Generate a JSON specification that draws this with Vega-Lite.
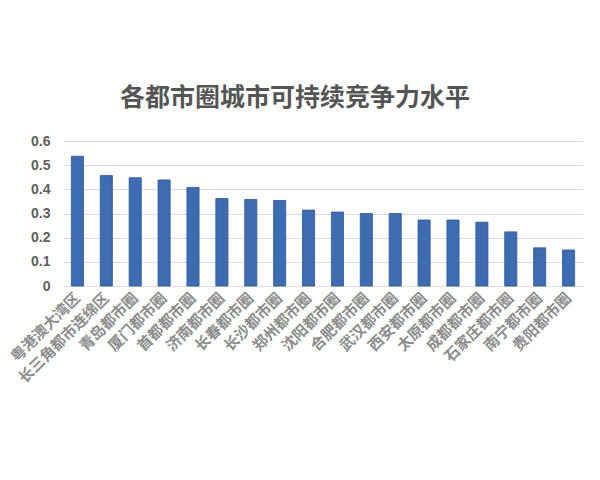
{
  "$schema": "https://vega.github.io/schema/vega-lite/v6.json",
  "autosize": {"type": "none"},
  "padding": {"left": 63, "top": 141, "right": 17, "bottom": 194},
  "width": 520,
  "height": 145,
  "background": "white",
  "title": {
    "text": "各都市圈城市可持续竞争力水平",
    "font": "Noto Sans CJK SC",
    "fontSize": 25,
    "fontWeight": "bold",
    "color": "#555555",
    "anchor": "middle",
    "dx": -28,
    "offset": 23
  },
  "data": {
    "values": [
      {"region": "粤港澳大湾区", "value": 0.537},
      {"region": "长三角都市连绵区", "value": 0.457},
      {"region": "青岛都市圈", "value": 0.448},
      {"region": "厦门都市圈", "value": 0.439},
      {"region": "首都都市圈", "value": 0.408},
      {"region": "济南都市圈", "value": 0.362},
      {"region": "长春都市圈", "value": 0.358},
      {"region": "长沙都市圈", "value": 0.354},
      {"region": "郑州都市圈", "value": 0.314},
      {"region": "沈阳都市圈", "value": 0.306},
      {"region": "合肥都市圈", "value": 0.300},
      {"region": "武汉都市圈", "value": 0.300},
      {"region": "西安都市圈", "value": 0.273},
      {"region": "太原都市圈", "value": 0.273},
      {"region": "成都都市圈", "value": 0.264},
      {"region": "石家庄都市圈", "value": 0.224},
      {"region": "南宁都市圈", "value": 0.158},
      {"region": "贵阳都市圈", "value": 0.149}
    ]
  },
  "mark": {"type": "bar", "color": "#3d6cb3", "stroke": "#2f5793", "strokeWidth": 0.8},
  "encoding": {
    "x": {
      "field": "region",
      "type": "nominal",
      "sort": null,
      "scale": {"paddingInner": 0.58, "paddingOuter": 0.29},
      "axis": {
        "title": null,
        "labelAngle": -45,
        "labelAlign": "right",
        "labelBaseline": "middle",
        "labelFont": "Noto Sans CJK SC",
        "labelFontSize": 15,
        "labelFontWeight": "bold",
        "labelColor": "#8c8c8c",
        "labelPadding": 9,
        "ticks": false,
        "domain": false,
        "labelOverlap": false
      }
    },
    "y": {
      "field": "value",
      "type": "quantitative",
      "scale": {"domain": [0, 0.6], "nice": false},
      "axis": {
        "title": null,
        "values": [0, 0.1, 0.2, 0.3, 0.4, 0.5, 0.6],
        "labelExpr": "datum.value == 0 ? '0' : format(datum.value, '.1f')",
        "labelFont": "Liberation Sans",
        "labelFontSize": 14,
        "labelFontWeight": "bold",
        "labelColor": "#606060",
        "labelPadding": 13,
        "ticks": false,
        "domain": false,
        "grid": true,
        "gridColor": "#dcdcdc",
        "gridWidth": 1
      }
    }
  },
  "config": {"view": {"stroke": null}}
}
